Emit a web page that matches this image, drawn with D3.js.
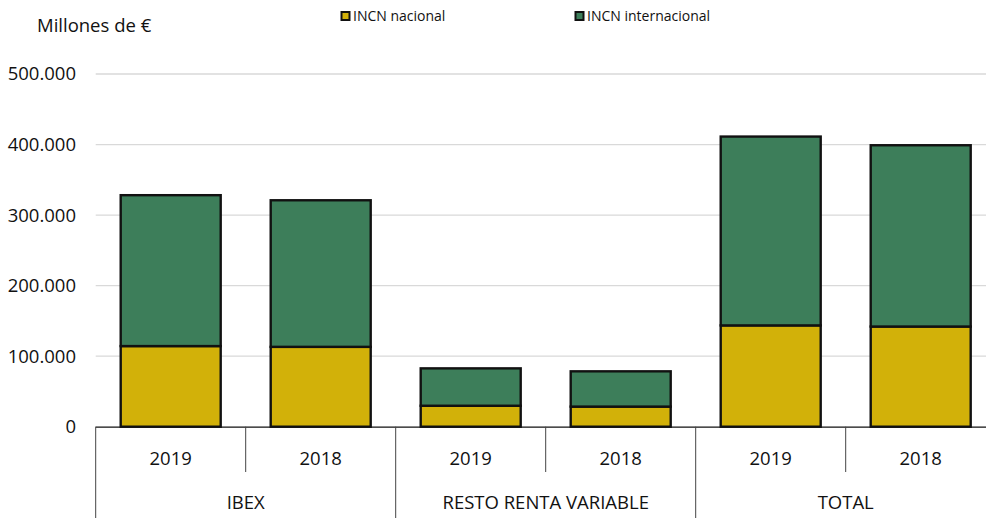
<!DOCTYPE html>
<html><head><meta charset="utf-8">
<script src="https://cdn.jsdelivr.net/npm/d3@7"></script>
<style>body{margin:0;background:#fff;overflow:hidden}svg{display:block}text{font-family:"Open Sans",sans-serif;fill:#111}</style>
</head><body><svg id="c" width="986" height="518"></svg>
<script>
const groups = ["IBEX","RESTO RENTA VARIABLE","TOTAL"];
const years = ["2019","2018"];
const nacional = [114.3,113.2,29.7,28.5,143.6,142.0]; // miles de millones
const internacional = [213.9,207.8,53.0,50.0,267.7,257.0];
const seriesNames = ["INCN nacional","INCN internacional"];
const colors = ["#d2b109","#3d7e5a"];
const yTicks = [0,100000,200000,300000,400000,500000];

const rows = [];
groups.forEach((g,gi)=>years.forEach((yr,yi)=>{const i=gi*2+yi;rows.push({key:g+"|"+yr,group:g,year:yr,nac:nacional[i]*1000,int:internacional[i]*1000});}));

const svg = d3.select("#c");
const x0=95.7, x1=995.7, yB=426.7, yT=74;
const x = d3.scaleBand().domain(rows.map(d=>d.key)).range([x0,x1]).paddingInner(1/3).paddingOuter(1/6);
const y = d3.scaleLinear().domain([0,500000]).range([yB,yT]);
const fmt = v => d3.format(",")(v).replace(/,/g,".");

// gridlines
svg.append("g").selectAll("line").data(yTicks.filter(t=>t>0)).join("line")
  .attr("x1",x0).attr("x2",x1).attr("y1",d=>y(d)).attr("y2",d=>y(d))
  .attr("stroke","#d9d9d9").attr("stroke-width",1.3);
// y labels
svg.append("g").selectAll("text").data(yTicks).join("text")
  .attr("x",76).attr("y",d=>y(d)).attr("dy","0.35em").attr("text-anchor","end")
  .attr("font-size",18.5).text(fmt);

const stack = d3.stack().keys(["nac","int"])(rows);
svg.append("g").selectAll("g").data(stack).join("g").attr("fill",(d,i)=>colors[i])
  .selectAll("rect").data(d=>d).join("rect")
  .attr("x",d=>x(d.data.key)).attr("width",x.bandwidth())
  .attr("y",d=>y(d[1])).attr("height",d=>y(d[0])-y(d[1]))
  .attr("stroke","#111").attr("stroke-width",2.4);

// axis
svg.append("line").attr("x1",x0).attr("x2",x1).attr("y1",yB+0.5).attr("y2",yB+0.5).attr("stroke","#111").attr("stroke-width",1.3);
const step = x.step();
const divs = d3.range(0,7).map(i=>({x:x0+i*step, major:i%2===0}));
svg.append("g").selectAll("line").data(divs).join("line")
  .attr("x1",d=>d.x).attr("x2",d=>d.x).attr("y1",yB).attr("y2",d=>d.major?518:472)
  .attr("stroke","#444").attr("stroke-width",1);
svg.append("g").selectAll("text").data(rows).join("text")
  .attr("x",d=>x(d.key)+x.bandwidth()/2).attr("y",459).attr("dy","0.35em")
  .attr("text-anchor","middle").attr("font-size",18.5).text(d=>d.year);
svg.append("g").selectAll("text").data(groups).join("text")
  .attr("x",(d,i)=>x0+(i*2+1)*step).attr("y",503).attr("dy","0.35em")
  .attr("text-anchor","middle").attr("font-size",18.5).text(d=>d);

svg.append("text").attr("x",37).attr("y",26).attr("dy","0.35em").attr("font-size",18.5).text("Millones de €");

// legend
const lx=[341,575];
const lg = svg.append("g").selectAll("g").data(seriesNames).join("g").attr("transform",(d,i)=>`translate(${lx[i]},16)`);
lg.append("rect").attr("x",0.5).attr("y",-4).attr("width",8).attr("height",8).attr("fill",(d,i)=>colors[i]).attr("stroke","#111").attr("stroke-width",2);
lg.append("text").attr("x",12).attr("y",0).attr("dy","0.35em").attr("font-size",14).text(d=>d);
</script></body></html>
